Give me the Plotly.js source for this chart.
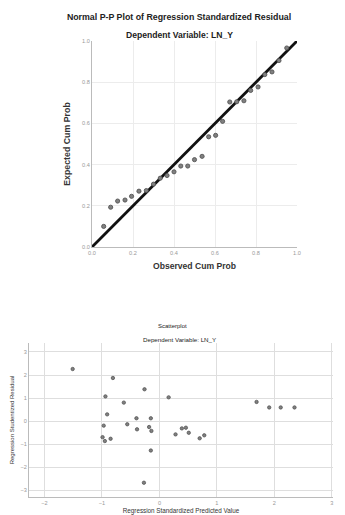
<!DOCTYPE html>
<html>
<head>
<meta charset="utf-8">
<script src="https://cdn.plot.ly/plotly-3.0.1.min.js"></script>
<style>html,body{margin:0;padding:0;background:#fff;}#chart{width:345px;height:515px;}</style>
</head>
<body>
<div id="chart"></div>
<script>
// P-P plot data
const ppObserved = [0.057,0.091,0.125,0.161,0.193,0.229,0.265,0.300,0.333,0.366,0.400,0.433,0.467,0.500,0.537,0.569,0.603,0.637,0.672,0.706,0.741,0.774,0.810,0.843,0.878,0.912,0.950];
const ppExpected = [0.100,0.193,0.223,0.228,0.246,0.271,0.274,0.305,0.334,0.347,0.365,0.393,0.393,0.424,0.440,0.535,0.542,0.610,0.704,0.705,0.710,0.760,0.777,0.837,0.850,0.905,0.966];
const diagX = [0, 1];
const diagY = [0, 1];
const ppTicks = [0, 0.2, 0.4, 0.6, 0.8, 1.0];
const ppTickText = ["0.0","0.2","0.4","0.6","0.8","1.0"];

// Scatterplot data
const predValue = [-1.51,-0.81,-0.26,-0.94,0.16,-0.62,-0.91,-0.40,-0.15,-0.97,-0.56,-0.39,-0.18,-0.14,-0.99,-0.95,-0.85,-0.15,-0.27,0.28,0.39,0.46,0.51,0.70,0.78,1.69,1.91,2.11,2.35];
const studResid = [2.26,1.87,1.38,1.07,1.03,0.80,0.29,0.12,0.12,-0.20,-0.14,-0.36,-0.26,-0.43,-0.70,-0.87,-0.77,-1.28,-2.68,-0.58,-0.32,-0.29,-0.51,-0.75,-0.62,0.83,0.59,0.59,0.59];
const scXTicks = [-2,-1,0,1,2,3];
const scYTicks = [-3,-2,-1,0,1,2,3];

const FONT = "Liberation Sans, Arial, sans-serif";
const W = 345, H = 515;
const px = v => v / W;
const py = v => 1 - v / H;

const traces = [
  {x: diagX, y: diagY, xaxis: 'x', yaxis: 'y', mode: 'lines', type: 'scatter',
   line: {color: '#111', width: 2.8}, hoverinfo: 'skip', showlegend: false},
  {x: ppObserved, y: ppExpected, xaxis: 'x', yaxis: 'y', mode: 'markers', type: 'scatter',
   marker: {size: 4.2, color: '#808080', line: {color: '#4a4a4a', width: 0.8}}, showlegend: false},
  {x: predValue, y: studResid, xaxis: 'x2', yaxis: 'y2', mode: 'markers', type: 'scatter',
   marker: {size: 3.4, color: '#808080', line: {color: '#4a4a4a', width: 0.7}}, showlegend: false}
];

const tickFont = {family: FONT, size: 5.6, color: '#999'};

const layout = {
  width: W, height: H,
  margin: {l: 0, r: 0, t: 0, b: 0},
  paper_bgcolor: '#fff', plot_bgcolor: '#fff',
  showlegend: false,
  title: {text: '<b>Normal P-P Plot of Regression Standardized Residual</b>',
          x: px(179), xanchor: 'center', y: py(17), yanchor: 'middle',
          font: {family: FONT, size: 8.8, color: '#222'}},
  xaxis: {domain: [px(92), px(297)], range: [0, 1], anchor: 'y',
          tickvals: ppTicks, ticktext: ppTickText, tickfont: tickFont,
          showgrid: true, gridcolor: '#ececec', gridwidth: 1,
          zeroline: false, showline: true, linecolor: '#bbb', linewidth: 1,
          ticks: '', ticklen: 0,
          title: {text: '<b>Observed Cum Prob</b>', standoff: 8, font: {family: FONT, size: 8.6, color: '#333'}}},
  yaxis: {domain: [py(247), py(41)], range: [0, 1], anchor: 'x',
          tickvals: ppTicks, ticktext: ppTickText, tickfont: tickFont,
          showgrid: true, gridcolor: '#ececec', gridwidth: 1,
          zeroline: false, showline: true, linecolor: '#bbb', linewidth: 1,
          ticks: '', ticklen: 0,
          title: {text: '<b>Expected Cum Prob</b>', standoff: 10, font: {family: FONT, size: 8.8, color: '#333'}}},
  xaxis2: {domain: [px(29), px(333)], range: [-2.27, 3.02], anchor: 'y2',
          tickvals: scXTicks, tickfont: tickFont,
          showgrid: true, gridcolor: '#dedede', gridwidth: 1,
          zeroline: false, showline: true, linecolor: '#bbb', linewidth: 1,
          ticks: '', ticklen: 0,
          title: {text: 'Regression Standardized Predicted Value', standoff: 6, font: {family: FONT, size: 6.3, color: '#333'}}},
  yaxis2: {domain: [py(497), py(343)], range: [-3.3, 3.39], anchor: 'x2',
          tickvals: scYTicks, tickfont: tickFont,
          showgrid: true, gridcolor: '#dedede', gridwidth: 1,
          zeroline: false, showline: true, linecolor: '#bbb', linewidth: 1,
          ticks: '', ticklen: 0,
          title: {text: 'Regression Studentized Residual', standoff: 5, font: {family: FONT, size: 6, color: '#333'}}},
  annotations: [
    {text: '<b>Dependent Variable: LN_Y</b>', xref: 'paper', yref: 'paper',
     x: px(179), y: py(35), xanchor: 'center', yanchor: 'middle', showarrow: false,
     font: {family: FONT, size: 8.6, color: '#222'}},
    {text: 'Scatterplot', xref: 'paper', yref: 'paper',
     x: px(172), y: py(326), xanchor: 'center', yanchor: 'middle', showarrow: false,
     font: {family: FONT, size: 6, color: '#222'}},
    {text: 'Dependent Variable: LN_Y', xref: 'paper', yref: 'paper',
     x: px(179), y: py(339), xanchor: 'center', yanchor: 'middle', showarrow: false,
     font: {family: FONT, size: 6.2, color: '#222'}}
  ]
};

Plotly.newPlot('chart', traces, layout, {staticPlot: true, displayModeBar: false});
</script>
</body>
</html>
